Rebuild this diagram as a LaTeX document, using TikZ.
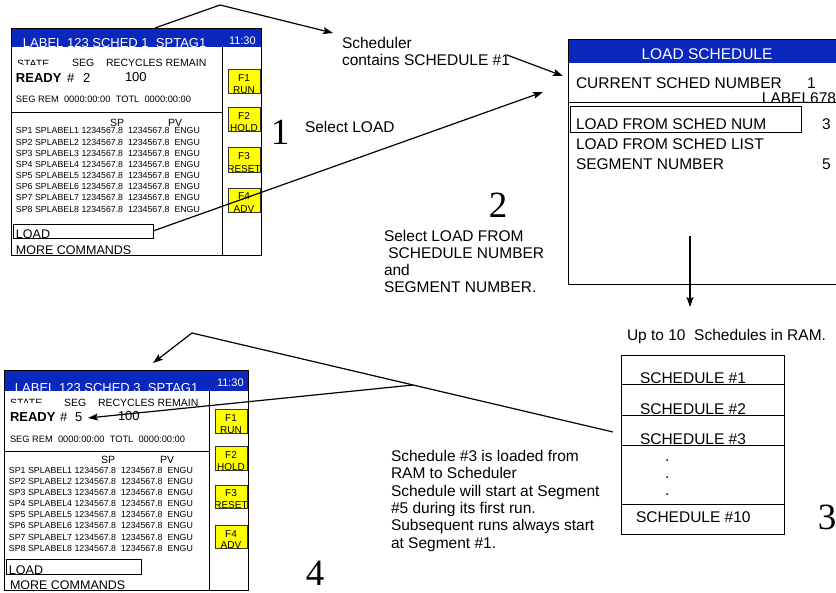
\documentclass[tikz,border=0pt]{standalone}
\usepackage{fontspec}
\setmainfont{Liberation Sans}
\newfontfamily\digitfont{Liberation Serif}
\usetikzlibrary{arrows.meta}
\definecolor{hdrblue}{RGB}{10,40,190}
\definecolor{fkeyyellow}{RGB}{255,255,0}
\tikzset{
  txt/.style={anchor=base west, inner sep=0pt, outer sep=0pt},
  big/.style={txt, font=\fontsize{15.5}{17.4}\selectfont},
  hdr/.style={txt, text=white, font=\fontsize{13}{14}\selectfont},
  hdrtime/.style={txt, text=white, font=\fontsize{11}{12}\selectfont},
  colhd/.style={txt, font=\fontsize{10.5}{12}\selectfont},
  ready/.style={txt, font=\fontsize{13}{14}\selectfont},
  segrem/.style={txt, font=\fontsize{9.3}{10}\selectfont},
  rowtxt/.style={txt, font=\fontsize{8.8}{10}\selectfont},
  cmd/.style={txt, font=\fontsize{12.5}{14}\selectfont},
  fkeytxt/.style={anchor=base, inner sep=0pt, font=\fontsize{10}{11}\selectfont},
  digit/.style={anchor=base, inner sep=0pt, font=\digitfont\fontsize{37}{39}\selectfont},
  panel/.style={draw=black, line width=0.9pt},
  thinln/.style={draw=black, line width=0.8pt},
  fkeybox/.style={draw=black!80, line width=0.8pt},
  conn/.style={draw=black, line width=1.2pt},
  arr/.style={conn, -{Stealth[length=10pt,width=7pt,inset=2pt]}},
}
\begin{document}
\begin{tikzpicture}[x=1pt,y=-1pt]
\useasboundingbox (0,0) rectangle (836,593);

%================ PANEL 1 =================
\fill[hdrblue] (11,28) rectangle (261,47);
\node[hdr] (p1title) at (23,47.5) {LABEL 123 SCHED 1\ \ SPTAG1};
\node[hdrtime] (p1time) at (229,45) {11:30};
\begin{scope}
  \clip (11,50) rectangle (62,65);
  \node[colhd] (p1state) at (17,67.5) {STATE};
\end{scope}
\node[colhd] (p1seg) at (72,67) {SEG};
\node[colhd] (p1recy) at (106,67) {RECYCLES REMAIN};
\node[ready, font=\bfseries\fontsize{13}{14}\selectfont] (p1ready) at (16,83) {READY};
\node[ready] (p1hash) at (67,83) {\#};
\node[ready] (p1segn) at (83,83) {2};
\node[ready] (p1cyc) at (125,82) {100};
\node[segrem] (p1segrem) at (16,102.5) {SEG REM\ \ 0000:00:00\ \ TOTL\ \ 0000:00:00};
\node[colhd] (p1sp) at (110,126.5) {SP};
\node[colhd] (p1pv) at (168,126.5) {PV};
\foreach \i in {1,...,8}{
  \node[rowtxt] (p1row\i) at (16,{134+11.15*(\i-1)}) {SP\i{} SPLABEL\i{} 1234567.8\ \ 1234567.8\ \ ENGU};
}
% F keys
\fill[fkeyyellow] (228,69) rectangle (260,93);
\fill[fkeyyellow] (228,107) rectangle (260,131);
\fill[fkeyyellow] (228,147) rectangle (260,172);
\fill[fkeyyellow] (228,188) rectangle (260,212);
\node[fkeytxt] (p1f1a) at (244,82) {F1};
\node[fkeytxt] (p1f1b) at (244,94) {RUN};
\node[fkeytxt] (p1f2a) at (244,120) {F2};
\node[fkeytxt] (p1f2b) at (244,132) {HOLD};
\node[fkeytxt] (p1f3a) at (244,160) {F3};
\node[fkeytxt] (p1f3b) at (244,173) {RESET};
\node[fkeytxt] (p1f4a) at (244,200) {F4};
\node[fkeytxt] (p1f4b) at (244,213) {ADV};
\draw[fkeybox] (228,69) rectangle (260,93);
\draw[fkeybox] (228,107) rectangle (260,131);
\draw[fkeybox] (228,147) rectangle (260,172);
\draw[fkeybox] (228,188) rectangle (260,212);
\node[cmd] (p1load) at (16,239) {LOAD};
\node[cmd] (p1more) at (16,255) {MORE COMMANDS};
\draw[thinln] (13,224) rectangle (153,238);
\draw[thinln] (222,47) -- (222,255);
\draw[thinln] (11,112) -- (222,112);
\draw[panel] (11,28) rectangle (261,255);

%================ PANEL 4 =================
\fill[hdrblue] (4,370) rectangle (248,391);
\node[hdr] (p4title) at (15,392.5) {LABEL 123 SCHED 3\ \ SPTAG1};
\node[hdrtime] (p4time) at (217,387) {11:30};
\begin{scope}
  \clip (4,393) rectangle (56,403);
  \node[colhd] (p4state) at (10,406.5) {STATE};
\end{scope}
\node[colhd] (p4seg) at (64,407) {SEG};
\node[colhd] (p4recy) at (98,407) {RECYCLES REMAIN};
\node[ready, font=\bfseries\fontsize{13}{14}\selectfont] (p4ready) at (10,422) {READY};
\node[ready] (p4hash) at (60,422) {\#};
\node[ready] (p4segn) at (75,422) {5};
\node[ready] (p4cyc) at (118,421) {100};
\node[segrem] (p4segrem) at (10,443) {SEG REM\ \ 0000:00:00\ \ TOTL\ \ 0000:00:00};
\node[colhd] (p4sp) at (101,463.5) {SP};
\node[colhd] (p4pv) at (160,463.5) {PV};
\foreach \i in {1,...,8}{
  \node[rowtxt] (p4row\i) at (9,{473.5+11.1*(\i-1)}) {SP\i{} SPLABEL\i{} 1234567.8\ \ 1234567.8\ \ ENGU};
}
\fill[fkeyyellow] (215,409) rectangle (247,433);
\fill[fkeyyellow] (215,446) rectangle (247,470);
\fill[fkeyyellow] (215,485) rectangle (247,508);
\fill[fkeyyellow] (215,525) rectangle (247,548);
\node[fkeytxt] (p4f1a) at (231,422) {F1};
\node[fkeytxt] (p4f1b) at (231,434) {RUN};
\node[fkeytxt] (p4f2a) at (231,459) {F2};
\node[fkeytxt] (p4f2b) at (231,471) {HOLD};
\node[fkeytxt] (p4f3a) at (231,497) {F3};
\node[fkeytxt] (p4f3b) at (231,509) {RESET};
\node[fkeytxt] (p4f4a) at (231,537) {F4};
\node[fkeytxt] (p4f4b) at (231,549) {ADV};
\draw[fkeybox] (215,409) rectangle (247,433);
\draw[fkeybox] (215,446) rectangle (247,470);
\draw[fkeybox] (215,485) rectangle (247,508);
\draw[fkeybox] (215,525) rectangle (247,548);
\node[cmd] (p4load) at (9,575) {LOAD};
\node[cmd] (p4more) at (10,590) {MORE COMMANDS};
\draw[thinln] (6,559) rectangle (141,574);
\draw[thinln] (209,391) -- (209,590);
\draw[thinln] (4,451) -- (209,451);
\draw[panel] (4,370) rectangle (248,590);

%================ PANEL 2 =================
\fill[hdrblue] (568,39) rectangle (836,63);
\node[big, anchor=base, text=white] (p2title) at (707,60) {LOAD SCHEDULE};
\node[big] (p2cur) at (576,89) {CURRENT SCHED NUMBER};
\node[big] (p2curv) at (807,89) {1};
\node[big, anchor=base east] (p2lbl) at (836,104) {LABEL678};
\node[big] (p2num) at (576,129.5) {LOAD FROM SCHED NUM};
\node[big] (p2numv) at (822,129.5) {3};
\node[big] (p2list) at (576,150) {LOAD FROM SCHED LIST};
\node[big] (p2segn) at (576,170) {SEGMENT NUMBER};
\node[big] (p2segv) at (822,170) {5};
\draw[thinln] (568,102) -- (836,102);
\draw[thinln] (570,106) rectangle (801,132);
\draw[panel] (836,39) -- (568,39) -- (568,284) -- (836,284);

%================ PANEL 3 =================
\node[big] (p3s1) at (640,384) {SCHEDULE \#1};
\node[big] (p3s2) at (640,415) {SCHEDULE \#2};
\node[big] (p3s3) at (640,445) {SCHEDULE \#3};
\node[big] (p3d1) at (665,462) {.};
\node[big] (p3d2) at (665,479) {.};
\node[big] (p3d3) at (665,496) {.};
\node[big] (p3s10) at (636,523) {SCHEDULE \#10};
\draw[thinln] (621,384.5) -- (784,384.5);
\draw[thinln] (621,415) -- (784,415);
\draw[thinln] (621,445) -- (784,445);
\draw[thinln] (621,504) -- (784,504);
\draw[panel] (621,355) rectangle (784,534);

%================ TEXTS =================
\node[big] (tsched1) at (342,49) {Scheduler};
\node[big] (tsched2) at (342,66) {contains SCHEDULE \#1};
\node[big] (tsel) at (305,133) {Select LOAD};
\node[big] (tsf1) at (384,242) {Select LOAD FROM};
\node[big] (tsf2) at (384,259) {\ SCHEDULE NUMBER};
\node[big] (tsf3) at (384,276) {and};
\node[big] (tsf4) at (384,293) {SEGMENT NUMBER.};
\node[big] (tupto) at (627,341) {Up to 10\ \ Schedules in RAM.};
\node[big] (tl1) at (391,461.5) {Schedule \#3 is loaded from};
\node[big] (tl2) at (391,479) {RAM to Scheduler};
\node[big] (tl3) at (391,496.5) {Schedule will start at Segment};
\node[big] (tl4) at (391,514) {\#5 during its first run.};
\node[big] (tl5) at (391,531) {Subsequent runs always start};
\node[big] (tl6) at (391,548.5) {at Segment \#1.};

\node[digit] (d1) at (280,145) {1};
\node[digit] (d2) at (498,218) {2};
\node[digit] (d3) at (827,530) {3};
\node[digit] (d4) at (315,586) {4};

%================ CONNECTORS =================
\coordinate (c1a) at (155,28);
\coordinate (c1b) at (220,5);
\coordinate (c1c) at (333,33);
\coordinate (c2a) at (507,55);
\coordinate (c2b) at (563,76);
\coordinate (c3a) at (153,231);
\coordinate (c3b) at (543,92);
\coordinate (c4a) at (690,236);
\coordinate (c4b) at (690,307);
\coordinate (c5a) at (613,432);
\coordinate (c5b) at (192,333);
\coordinate (c5c) at (153,363);
\coordinate (c6a) at (413,385);
\coordinate (c6b) at (88,418);
\draw[arr] (c1a) -- (c1b) -- (c1c);
\draw[arr] (c2a) -- (c2b);
\draw[arr] (c3a) -- (c3b);
\draw[arr] (c4a) -- (c4b);
\draw[arr] (c5a) -- (c5b) -- (c5c);
\draw[arr] (c6a) -- (c6b);
\end{tikzpicture}
\end{document}
